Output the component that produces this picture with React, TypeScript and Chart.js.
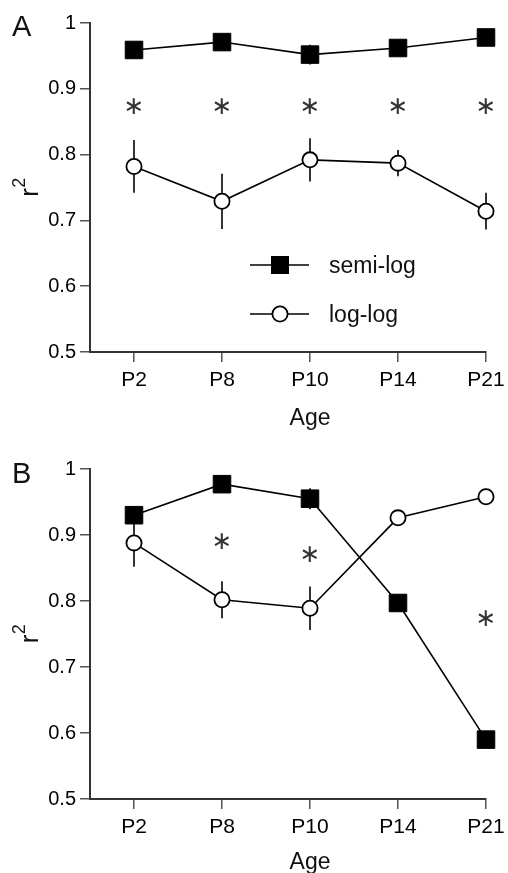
import React, { useEffect, useRef } from 'react';
import { Chart, registerables } from 'chart.js';

Chart.register(...registerables);

// ---------- data ----------
const AGES = ['P2', 'P8', 'P10', 'P14', 'P21'];
const Y_MIN = 0.5;
const Y_MAX = 1;
const Y_STEP = 0.1;

const A_SEMI = [0.959, 0.971, 0.952, 0.962, 0.978];
const A_SEMI_ERR = [0, 0, 0.015, 0, 0];
const A_LOG = [0.782, 0.729, 0.792, 0.787, 0.714];
const A_LOG_ERR = [0.04, 0.042, 0.033, 0.02, 0.028];
const A_STARS: (number | null)[] = [0.872, 0.872, 0.872, 0.872, 0.872];

const B_SEMI = [0.93, 0.977, 0.955, 0.797, 0.59];
const B_SEMI_ERR = [0, 0, 0.016, 0, 0];
const B_LOG = [0.888, 0.802, 0.789, 0.926, 0.958];
const B_LOG_ERR = [0.036, 0.028, 0.033, 0.012, 0.012];
const B_STARS: (number | null)[] = [null, 0.888, 0.869, null, 0.772];

const SERIES_NAMES = ['semi-log', 'log-log'];

const FONT = '"Liberation Sans", Arial, Helvetica, sans-serif';

type PanelCfg = {
  letter: string;
  height: number;
  padTop: number;
  xHeight: number;
  letterBaseline: number;
  ageOffset: number;
  legend: boolean;
  semi: number[];
  semiErr: number[];
  log: number[];
  logErr: number[];
  stars: (number | null)[];
};

function makeOverlay(cfg: PanelCfg) {
  return {
    id: 'overlay' + cfg.letter,
    beforeDatasetsDraw(chart: any) {
      const { ctx } = chart;
      const x = chart.scales.x;
      const y = chart.scales.y;
      ctx.save();
      ctx.strokeStyle = '#000';
      ctx.lineWidth = 1.6;
      const pairs: [number[], number[]][] = [
        [cfg.semi, cfg.semiErr],
        [cfg.log, cfg.logErr],
      ];
      pairs.forEach(([vals, errs]) => {
        vals.forEach((v, i) => {
          const e = errs[i];
          if (!e) return;
          const px = x.getPixelForValue(i);
          ctx.beginPath();
          ctx.moveTo(px, y.getPixelForValue(v + e));
          ctx.lineTo(px, y.getPixelForValue(v - e));
          ctx.stroke();
        });
      });
      ctx.restore();
    },
    afterDraw(chart: any) {
      const { ctx, chartArea } = chart;
      const x = chart.scales.x;
      const y = chart.scales.y;
      ctx.save();
      ctx.fillStyle = '#111';

      // significance asterisks
      ctx.font = `25px "DejaVu Sans", sans-serif`;
      ctx.textAlign = 'center';
      ctx.textBaseline = 'middle';
      ctx.fillStyle = '#333';
      cfg.stars.forEach((v, i) => {
        if (v == null) return;
        ctx.fillText('\u2217', x.getPixelForValue(i), y.getPixelForValue(v));
      });
      ctx.fillStyle = '#111';

      // panel letter
      ctx.font = `29px ${FONT}`;
      ctx.textAlign = 'left';
      ctx.textBaseline = 'alphabetic';
      ctx.fillText(cfg.letter, 12, cfg.letterBaseline);

      // y-axis title r²
      const cy = (chartArea.top + chartArea.bottom) / 2;
      ctx.save();
      ctx.translate(38, cy);
      ctx.rotate(-Math.PI / 2);
      ctx.font = `26px ${FONT}`;
      const rW = ctx.measureText('r').width;
      ctx.font = `18px ${FONT}`;
      const tW = ctx.measureText('2').width;
      const start = -(rW + tW) / 2;
      ctx.font = `26px ${FONT}`;
      ctx.textAlign = 'left';
      ctx.fillText('r', start, 0);
      ctx.font = `18px ${FONT}`;
      ctx.fillText('2', start + rW + 0.5, -13);
      ctx.restore();

      // x-axis title
      ctx.font = `23px ${FONT}`;
      ctx.textAlign = 'center';
      ctx.textBaseline = 'middle';
      ctx.fillText('Age', x.getPixelForValue(2), chartArea.bottom + cfg.ageOffset);

      // legend
      if (cfg.legend) {
        const l0 = chartArea.left + 160;
        const l1 = chartArea.left + 219;
        const mx = chartArea.left + 190;
        const tx = chartArea.left + 239;
        const rows = [chartArea.top + 242, chartArea.top + 291];
        ctx.lineWidth = 1.6;
        ctx.strokeStyle = '#000';
        rows.forEach((ry, k) => {
          ctx.beginPath();
          ctx.moveTo(l0, ry);
          ctx.lineTo(l1, ry);
          ctx.stroke();
          if (k === 0) {
            ctx.fillStyle = '#000';
            ctx.fillRect(mx - 9, ry - 9, 18, 18);
          } else {
            ctx.beginPath();
            ctx.arc(mx, ry, 7.6, 0, Math.PI * 2);
            ctx.fillStyle = '#fff';
            ctx.fill();
            ctx.lineWidth = 1.8;
            ctx.stroke();
          }
          ctx.fillStyle = '#111';
          ctx.font = `23px ${FONT}`;
          ctx.textAlign = 'left';
          ctx.textBaseline = 'alphabetic';
          ctx.fillText(SERIES_NAMES[k], tx, ry + 8);
        });
      }
      ctx.restore();
    },
  };
}

function Panel({ cfg }: { cfg: PanelCfg }) {
  const ref = useRef<HTMLCanvasElement | null>(null);
  useEffect(() => {
    if (!ref.current) return;
    const chart = new Chart(ref.current, {
      type: 'line',
      data: {
        datasets: [
          {
            label: SERIES_NAMES[0],
            data: cfg.semi.map((v, i) => ({ x: i, y: v })),
            borderColor: '#000',
            backgroundColor: '#000',
            borderWidth: 1.6,
            pointStyle: 'rect',
            pointRadius: 12.4,
            pointBorderWidth: 1,
            pointBackgroundColor: '#000',
            pointBorderColor: '#000',
            tension: 0,
            clip: false,
          },
          {
            label: SERIES_NAMES[1],
            data: cfg.log.map((v, i) => ({ x: i, y: v })),
            borderColor: '#000',
            backgroundColor: '#fff',
            borderWidth: 1.6,
            pointStyle: 'circle',
            pointRadius: 7.6,
            pointBorderWidth: 1.8,
            pointBackgroundColor: '#fff',
            pointBorderColor: '#000',
            tension: 0,
            clip: false,
          },
        ],
      },
      options: {
        animation: false,
        responsive: false,
        maintainAspectRatio: false,
        events: [],
        layout: { padding: { top: cfg.padTop, right: 22, left: 0, bottom: 0 } },
        plugins: {
          legend: { display: false },
          tooltip: { enabled: false },
          title: { display: false },
        },
        scales: {
          x: {
            type: 'linear',
            min: -0.5,
            max: AGES.length - 1,
            afterBuildTicks: (scale: any) => {
              scale.ticks = AGES.map((_, i) => ({ value: i }));
            },
            afterFit: (scale: any) => {
              scale.height = cfg.xHeight;
              scale.paddingLeft = 0;
              scale.paddingRight = 0;
            },
            ticks: {
              autoSkip: false,
              maxRotation: 0,
              padding: 6,
              color: '#000',
              font: { family: FONT, size: 21 },
              callback: (v: any) => AGES[Number(v)] ?? '',
            },
            grid: {
              display: true,
              drawOnChartArea: false,
              drawTicks: true,
              tickLength: 10,
              color: '#555',
              lineWidth: 1.5,
            },
            border: { display: true, color: '#333', width: 2 },
          },
          y: {
            type: 'linear',
            min: Y_MIN,
            max: Y_MAX,
            afterFit: (scale: any) => {
              scale.width = 90;
            },
            ticks: {
              stepSize: Y_STEP,
              padding: 4,
              color: '#000',
              font: { family: FONT, size: 20 },
              callback: (v: any) => {
                const n = Number(v);
                return Math.abs(n - 1) < 1e-9 ? '1' : n.toFixed(1);
              },
            },
            grid: {
              display: true,
              drawOnChartArea: false,
              drawTicks: true,
              tickLength: 10,
              color: '#555',
              lineWidth: 1.5,
            },
            border: { display: true, color: '#333', width: 2 },
          },
        },
      },
      plugins: [makeOverlay(cfg)],
    } as any);
    return () => chart.destroy();
  }, [cfg]);
  return (
    <div style={{ width: 508, height: cfg.height, position: 'relative' }}>
      <canvas ref={ref} width={508} height={cfg.height} style={{ display: 'block', width: 508, height: cfg.height }} />
    </div>
  );
}

const PANEL_A: PanelCfg = {
  letter: 'A',
  height: 436,
  padTop: 23,
  xHeight: 84,
  letterBaseline: 36,
  ageOffset: 67,
  legend: true,
  semi: A_SEMI,
  semiErr: A_SEMI_ERR,
  log: A_LOG,
  logErr: A_LOG_ERR,
  stars: A_STARS,
};

const PANEL_B: PanelCfg = {
  letter: 'B',
  height: 437,
  padTop: 33,
  xHeight: 74,
  letterBaseline: 47,
  ageOffset: 64,
  legend: false,
  semi: B_SEMI,
  semiErr: B_SEMI_ERR,
  log: B_LOG,
  logErr: B_LOG_ERR,
  stars: B_STARS,
};

export default function App() {
  return (
    <div style={{ position: 'absolute', left: 0, top: 0, width: 508, height: 873, background: '#fff', overflow: 'hidden' }}>
      <Panel cfg={PANEL_A} />
      <Panel cfg={PANEL_B} />
    </div>
  );
}
